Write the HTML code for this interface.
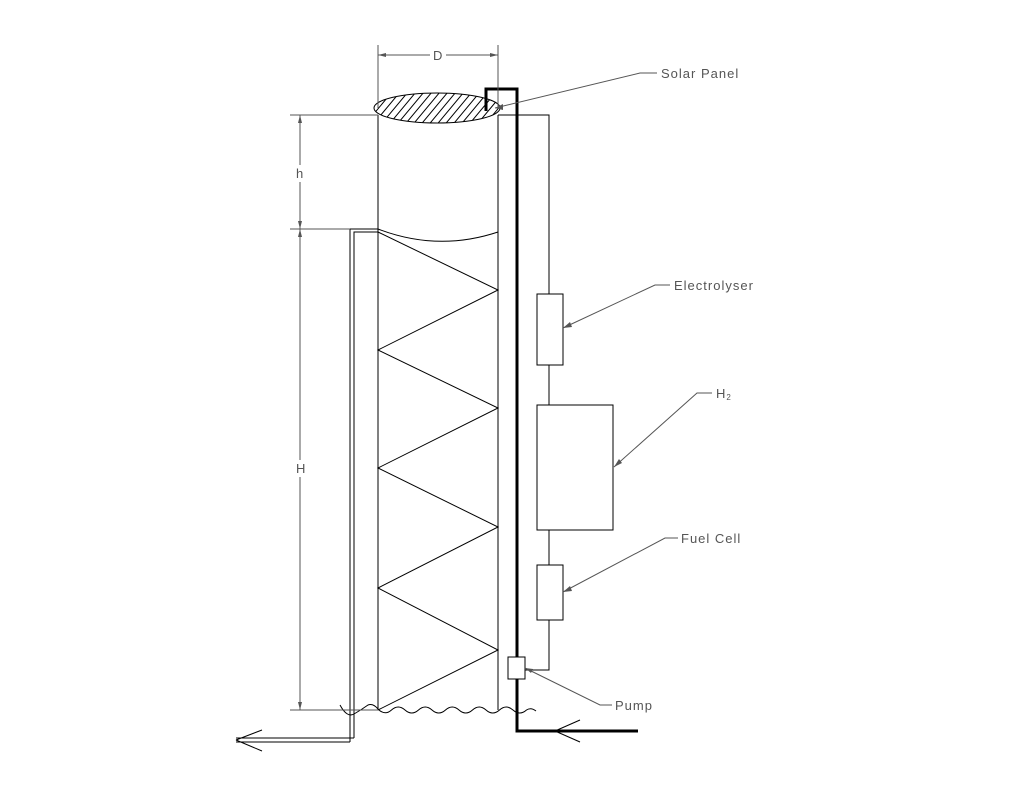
<!DOCTYPE html>
<html><head><meta charset="utf-8"><style>
html,body{margin:0;padding:0;background:#fff;}
svg{display:block;}
text{font-family:"Liberation Sans",sans-serif;font-size:13px;fill:#555;letter-spacing:1px;}
</style></head><body>
<svg width="1025" height="797" viewBox="0 0 1025 797" xmlns="http://www.w3.org/2000/svg">
<defs>
<clipPath id="ell"><ellipse cx="437" cy="108" rx="63" ry="15"/></clipPath>
</defs>
<g fill="none" stroke="#000" stroke-width="1">
<g clip-path="url(#ell)" stroke="#000">
<path d="M360 140 L410 80 M368 140 L418 80 M376 140 L426 80 M384 140 L434 80 M392 140 L442 80 M400 140 L450 80 M408 140 L458 80 M416 140 L466 80 M424 140 L474 80 M432 140 L482 80 M440 140 L490 80 M448 140 L498 80 M456 140 L506 80 M464 140 L514 80 M472 140 L522 80 M480 140 L530 80 M352 140 L402 80 M344 140 L394 80"/>
</g>
<ellipse cx="437" cy="108" rx="63" ry="15"/>
<line x1="378" y1="115" x2="378" y2="710"/>
<line x1="498" y1="115" x2="498" y2="710"/>
<path d="M378 229 Q438 252 498 232"/>
<polyline points="378,232 498,290 378,350 498,408 378,468 498,527 378,588 498,650 378,710"/>
<path d="M340,705 Q347,718 354,714 Q361,710 368,705 Q373,703 378,709 Q384.75,716 391.5,710 Q398.25,704 405,710 Q411.75,716 418.5,710 Q425.25,704 432,710 Q438.75,716 445.5,710 Q452.25,704 459,710 Q465.75,716 472.5,710 Q479.25,704 486,710 Q492.75,716 499.5,710 Q506.25,704 513,710 Q519.75,716 526.5,710 Q531,707 536,711"/>
<path d="M350 742 V229 H378"/>
<path d="M354 738 V232 H378"/>
<line x1="354" y1="738" x2="236" y2="738"/>
<line x1="350" y1="742" x2="236" y2="742"/>
<line x1="236" y1="740" x2="262" y2="730"/>
<line x1="236" y1="740" x2="262" y2="751"/>
<polyline points="498,115 549,115 549,294"/>
<rect x="537" y="294" width="26" height="71"/>
<line x1="549" y1="365" x2="549" y2="405"/>
<rect x="537" y="405" width="76" height="125"/>
<line x1="549" y1="530" x2="549" y2="565"/>
<rect x="537" y="565" width="26" height="55"/>
<polyline points="549,620 549,670 525,670"/>
<rect x="508" y="657" width="17" height="22"/>
<polyline points="486,111 486,89 517,89 517,657" stroke-width="3"/>
<polyline points="517,679 517,731 638,731" stroke-width="3"/>
<line x1="555" y1="731" x2="580" y2="720"/>
<line x1="555" y1="731" x2="580" y2="742"/>
</g>
<g fill="none" stroke="#555" stroke-width="1">
<line x1="378" y1="45" x2="378" y2="108"/>
<line x1="498" y1="45" x2="498" y2="108"/>
<line x1="378" y1="55" x2="430" y2="55"/>
<line x1="446" y1="55" x2="498" y2="55"/>
<line x1="290" y1="115" x2="378" y2="115"/>
<line x1="290" y1="229" x2="350" y2="229"/>
<line x1="290" y1="710" x2="378" y2="710"/>
<line x1="300" y1="115" x2="300" y2="165"/>
<line x1="300" y1="182" x2="300" y2="229"/>
<line x1="300" y1="229" x2="300" y2="460"/>
<line x1="300" y1="477" x2="300" y2="710"/>
<polyline points="495,108 640,73 657,73"/>
<polyline points="563,328 655,285 670,285"/>
<polyline points="614,467 697,393 712,393"/>
<polyline points="563,592 665,538 678,538"/>
<polyline points="525,668 600,705 612,705"/>
</g>
<g fill="#555">
<polygon points="378,55 386,53 386,57"/><polygon points="498,55 490,53 490,57"/>
<polygon points="300,115 298,123 302,123"/><polygon points="300,229 298,221 302,221"/>
<polygon points="300,229 298,237 302,237"/><polygon points="300,710 298,702 302,702"/>
<polygon points="495,108 503,104 503,110"/>
<polygon points="563,328 570,322 572,327"/>
<polygon points="614,467 619,459 622,463"/>
<polygon points="563,592 570,586 572,591"/>
<polygon points="525,668 533,669 531,673"/>
</g>
<text x="433" y="60">D</text>
<text x="296" y="178">h</text>
<text x="296" y="473">H</text>
<text x="661" y="78">Solar Panel</text>
<text x="674" y="290">Electrolyser</text>
<text x="716" y="398">H<tspan font-size="8" dy="2">2</tspan></text>
<text x="681" y="543">Fuel Cell</text>
<text x="615" y="710">Pump</text>
</svg>
</body></html>
